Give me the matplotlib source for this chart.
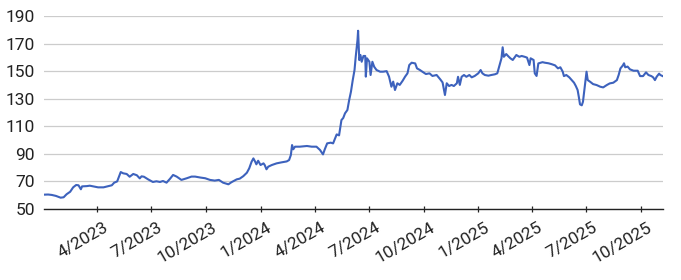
import matplotlib
matplotlib.use("Agg")
import matplotlib.pyplot as plt
import matplotlib.dates as mdates
import matplotlib.transforms as mtransforms
import pandas as pd

# values
dates_2023 = ["2023-01-02", "2023-01-09", "2023-01-15", "2023-01-22", "2023-01-30",
              "2023-02-04", "2023-02-09", "2023-02-15", "2023-02-20", "2023-02-25",
              "2023-03-01", "2023-03-05", "2023-03-07", "2023-03-15", "2023-03-20",
              "2023-03-26", "2023-04-03", "2023-04-12", "2023-04-20", "2023-04-26",
              "2023-04-30", "2023-05-05", "2023-05-08", "2023-05-11", "2023-05-15",
              "2023-05-21", "2023-05-26", "2023-06-01", "2023-06-07", "2023-06-12",
              "2023-06-15", "2023-06-19", "2023-06-26", "2023-07-04", "2023-07-10",
              "2023-07-16", "2023-07-21", "2023-07-27", "2023-08-02", "2023-08-07",
              "2023-08-13", "2023-08-21", "2023-08-30", "2023-09-07", "2023-09-13",
              "2023-09-22", "2023-09-30", "2023-10-08", "2023-10-16", "2023-10-23",
              "2023-10-30", "2023-11-08", "2023-11-13", "2023-11-22", "2023-11-27",
              "2023-12-03", "2023-12-09", "2023-12-13", "2023-12-17", "2023-12-20",
              "2023-12-23", "2023-12-25", "2023-12-28"]
values_2023 = [60.4, 60.5, 60.2, 59.5, 58.2,
               58.5, 60.7, 62.5, 65.7, 67.4,
               67.2, 64.3, 66.4, 66.6, 66.9,
               66.4, 65.7, 65.7, 66.6, 67.2,
               69.1, 70.0, 73.4, 76.8, 75.9,
               75.4, 73.4, 75.4, 74.5, 72.2,
               73.7, 73.4, 71.5, 69.6, 70.1,
               69.6, 70.3, 69.1, 72.0, 74.7,
               73.5, 71.1, 72.3, 73.5, 73.5,
               72.8, 72.3, 71.1, 70.6, 71.1,
               69.1, 67.9, 69.4, 71.5, 72.0,
               73.8, 76.3, 79.5, 84.3, 86.7,
               84.3, 82.4, 85.0]

dates_2024 = ["2024-01-01", "2024-01-06", "2024-01-08", "2024-01-11", "2024-01-14",
              "2024-01-20", "2024-01-28", "2024-02-05", "2024-02-14", "2024-02-18",
              "2024-02-21", "2024-02-23", "2024-02-25", "2024-02-28", "2024-03-07",
              "2024-03-19", "2024-03-27", "2024-04-04", "2024-04-10", "2024-04-15",
              "2024-04-18", "2024-04-22", "2024-04-28", "2024-05-02", "2024-05-08",
              "2024-05-12", "2024-05-16", "2024-05-19", "2024-05-22", "2024-05-26",
              "2024-05-29", "2024-06-01", "2024-06-04", "2024-06-07", "2024-06-09",
              "2024-06-12", "2024-06-13", "2024-06-15", "2024-06-17", "2024-06-19",
              "2024-06-22", "2024-06-25", "2024-06-26", "2024-06-28", "2024-07-02",
              "2024-07-04", "2024-07-07", "2024-07-10", "2024-07-14", "2024-07-20",
              "2024-07-25", "2024-07-31", "2024-08-04", "2024-08-08", "2024-08-11",
              "2024-08-14", "2024-08-18", "2024-08-22", "2024-08-27", "2024-08-31",
              "2024-09-04", "2024-09-07", "2024-09-11", "2024-09-17", "2024-09-20",
              "2024-09-25", "2024-09-29", "2024-10-05", "2024-10-11", "2024-10-16",
              "2024-10-23", "2024-10-29", "2024-11-02", "2024-11-06", "2024-11-09",
              "2024-11-13", "2024-11-17", "2024-11-21", "2024-11-26", "2024-11-28",
              "2024-12-01", "2024-12-04", "2024-12-08", "2024-12-12", "2024-12-17",
              "2024-12-21", "2024-12-26"]
values_2024 = [81.9, 83.1, 81.9, 78.8, 80.7,
               81.9, 83.1, 83.8, 84.5, 85.5,
               89.2, 96.4, 93.3, 95.2, 95.2,
               95.7, 95.2, 95.2, 92.8, 89.6,
               93.3, 97.6, 98.1, 97.6, 104.1,
               103.4, 114.5, 116.0, 119.4, 121.8,
               129.0, 135.1, 143.5, 150.8, 160.4,
               172.6, 179.3, 158.0, 161.7, 156.8,
               161.0, 161.0, 146.0, 159.3, 156.8,
               147.2, 156.8, 153.2, 150.8, 149.6,
               149.6, 150.0, 146.0, 138.7, 142.4,
               136.3, 141.2, 140.0, 143.1, 146.0,
               148.4, 154.4, 156.1, 155.6, 152.0,
               150.8, 149.6, 147.9, 148.4, 146.5,
               147.2, 144.1, 141.8, 132.7, 141.2,
               139.2, 140.0, 139.2, 141.2, 145.9,
               140.0, 145.9, 147.2, 145.9, 147.2,
               145.5, 146.5]

dates_2025 = ["2025-01-01", "2025-01-05", "2025-01-08", "2025-01-12", "2025-01-18",
              "2025-01-23", "2025-01-29", "2025-02-02", "2025-02-05", "2025-02-09",
              "2025-02-11", "2025-02-13", "2025-02-17", "2025-02-20", "2025-02-24",
              "2025-02-28", "2025-03-02", "2025-03-06", "2025-03-11", "2025-03-15",
              "2025-03-20", "2025-03-24", "2025-03-28", "2025-03-30", "2025-04-04",
              "2025-04-06", "2025-04-09", "2025-04-12", "2025-04-15", "2025-04-19",
              "2025-04-23", "2025-04-29", "2025-05-04", "2025-05-10", "2025-05-15",
              "2025-05-19", "2025-05-23", "2025-05-25", "2025-05-29", "2025-06-03",
              "2025-06-07", "2025-06-11", "2025-06-14", "2025-06-17", "2025-06-19",
              "2025-06-21", "2025-06-24", "2025-06-26", "2025-06-29", "2025-07-02",
              "2025-07-04", "2025-07-08", "2025-07-13", "2025-07-19", "2025-07-25",
              "2025-07-30", "2025-08-05", "2025-08-10", "2025-08-16", "2025-08-22",
              "2025-08-25", "2025-08-28", "2025-09-01", "2025-09-03", "2025-09-05",
              "2025-09-09", "2025-09-13", "2025-09-19", "2025-09-26", "2025-09-30",
              "2025-10-05", "2025-10-10", "2025-10-14", "2025-10-19", "2025-10-22",
              "2025-10-25", "2025-10-28", "2025-11-01", "2025-11-03", "2025-11-07"]
values_2025 = [148.4, 150.8, 148.4, 147.2, 146.7,
               147.2, 147.7, 148.4, 153.2, 159.3,
               167.3, 160.4, 162.4, 161.0, 159.3,
               158.1, 159.3, 161.7, 160.4, 161.0,
               160.4, 159.8, 154.4, 159.3, 158.1,
               148.4, 146.5, 155.6, 156.0, 156.5,
               156.1, 155.7, 155.1, 154.2, 152.0,
               152.8, 149.6, 146.4, 147.2, 145.5,
               143.5, 141.6, 139.2, 136.3, 131.4,
               125.9, 125.2, 127.8, 138.7, 149.6,
               143.5, 142.3, 140.6, 139.9, 138.7,
               138.2, 139.9, 141.1, 141.6, 143.5,
               147.2, 152.0, 154.1, 155.7, 152.8,
               153.3, 151.3, 150.3, 150.3, 146.4,
               146.4, 149.1, 147.2, 146.4, 145.5,
               143.5, 146.0, 148.2, 147.2, 146.4]

dates = pd.to_datetime(dates_2023 + dates_2024 + dates_2025)
values = values_2023 + values_2024 + values_2025

y_ticks = [50, 70, 90, 110, 130, 150, 170, 190]
x_ticks = pd.to_datetime(["2023-04-01", "2023-07-01", "2023-10-01", "2024-01-01",
                          "2024-04-01", "2024-07-01", "2024-10-01", "2025-01-01",
                          "2025-04-01", "2025-07-01", "2025-10-01"])

plt.rcParams['font.family'] = ['Roboto', 'DejaVu Sans']

fig = plt.figure(figsize=(6.81, 2.80), dpi=100)
ax = fig.add_axes([0.0646, 0.2536, 0.9085, 0.6893])

ax.plot(dates, values, color="#3d62bd", lw=1.5, solid_joinstyle="round")

ax.set_xlim(dates[0], dates[-1])
ax.set_ylim(50, 190)
ax.set_yticks(y_ticks)
ax.set_xticks(x_ticks)
ax.xaxis.set_major_formatter(mdates.DateFormatter("%-m/%Y"))

for s in ["top", "right", "left"]:
    ax.spines[s].set_visible(False)
ax.spines["bottom"].set_color("#222222")
ax.spines["bottom"].set_linewidth(1.0)
ax.spines["bottom"].set_zorder(3)

ax.grid(axis="y", color="#cccccc", lw=0.9)
ax.set_axisbelow(True)

ax.tick_params(axis="y", length=0, pad=6.5, labelsize=12.5, labelcolor="#222222")
ax.tick_params(axis="x", direction="inout", length=4, width=0.9, color="#222222",
               pad=6, labelsize=12.5, labelcolor="#222222")

# shift rotated date labels a little to the right, like the original
shift = mtransforms.ScaledTranslation(6 / 100, 0, fig.dpi_scale_trans)
for lbl in ax.get_xticklabels():
    lbl.set_rotation(30)
    lbl.set_ha("right")
    lbl.set_va("top")
    lbl.set_rotation_mode("anchor")
    lbl.set_transform(lbl.get_transform() + shift)

fig.savefig("out.png", dpi=100)
